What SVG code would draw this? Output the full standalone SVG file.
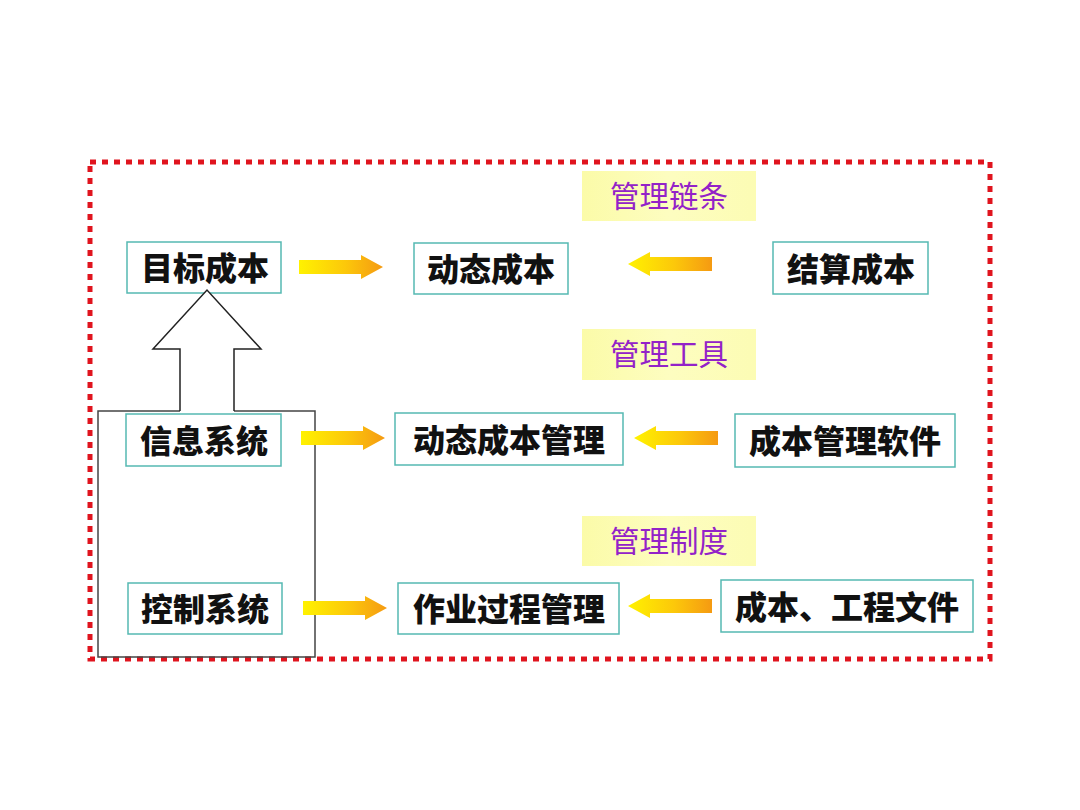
<svg xmlns="http://www.w3.org/2000/svg" width="1080" height="810" viewBox="0 0 1080 810">
<defs>
<linearGradient id="ag" x1="0" y1="0" x2="1" y2="0">
<stop offset="0" stop-color="#fff200"/>
<stop offset="0.55" stop-color="#fcc80a"/>
<stop offset="1" stop-color="#f59a12"/>
</linearGradient>
<linearGradient id="lg" x1="0" y1="0" x2="1" y2="0">
<stop offset="0" stop-color="#fbfba8"/>
<stop offset="0.5" stop-color="#fdfdc0"/>
<stop offset="1" stop-color="#fcfcb4"/>
</linearGradient>
<path id="ra" d="M0,-7 H62 V-12 L84,0 L62,12 V7 H0 Z"/>
<path id="la" d="M84,-7 H22 V-12 L0,0 L22,12 V7 H84 Z"/>
</defs>
<style>
.box{fill:#ffffff;stroke:#55b9b2;stroke-width:1.5}
.lab{fill:url(#lg);stroke:none}
.t{font-family:"Noto Sans CJK SC","Noto Sans CJK JP",sans-serif;font-size:32px;font-weight:900;fill:#111111;text-anchor:middle}
.p{font-family:"Noto Sans CJK SC","Noto Sans CJK JP",sans-serif;font-size:29.5px;fill:#9322c8;text-anchor:middle}
.arr{fill:url(#ag)}
</style>
<rect width="1080" height="810" fill="#ffffff"/>
<rect id="frame" x="90" y="162" width="900" height="497" fill="none" stroke="#e0141e" stroke-width="5" stroke-dasharray="6 6"/>

<g id="label-chain"><rect class="lab" x="582" y="171" width="174" height="50"/><text class="p" x="669" y="207">管理链条</text></g>
<g id="label-tools"><rect class="lab" x="582" y="329" width="174" height="51"/><text class="p" x="669" y="365">管理工具</text></g>
<g id="label-system"><rect class="lab" x="582" y="516" width="174" height="50"/><text class="p" x="669" y="552">管理制度</text></g>

<g id="n-target"><rect class="box" x="127" y="242" width="154" height="51"/><text class="t" x="205" y="280">目标成本</text></g>
<g id="n-dynamic"><rect class="box" x="414" y="243" width="154" height="51"/><text class="t" x="491" y="281">动态成本</text></g>
<g id="n-settle"><rect class="box" x="773" y="242" width="155" height="52"/><text class="t" x="851" y="281">结算成本</text></g>
<g id="n-info"><rect class="box" x="126" y="414" width="155" height="52"/><text class="t" x="204" y="453">信息系统</text></g>
<g id="n-dynmgmt"><rect class="box" x="395" y="413" width="228" height="52"/><text class="t" x="509" y="452">动态成本管理</text></g>
<g id="n-software"><rect class="box" x="735" y="414" width="220" height="53"/><text class="t" x="845" y="453">成本管理软件</text></g>
<g id="n-control"><rect class="box" x="128" y="583" width="154" height="51"/><text class="t" x="205" y="621">控制系统</text></g>
<g id="n-process"><rect class="box" x="398" y="583" width="221" height="51"/><text class="t" x="509" y="621">作业过程管理</text></g>
<g id="n-docs"><rect class="box" x="721" y="580" width="252" height="52"/><text class="t" x="847" y="619">成本、工程文件</text></g>

<g id="connectors">
<path d="M180,411 H98 V657 H315 V411 H234" fill="none" stroke="#444444" stroke-width="1.5"/>
<path d="M180,411 V349 H153 L207,290 L261,349 H234 V411" fill="#ffffff" stroke="#222222" stroke-width="1.5" stroke-linejoin="miter"/>
<use href="#ra" class="arr" x="299" y="267"/>
<use href="#ra" class="arr" x="301" y="438"/>
<use href="#ra" class="arr" x="303" y="608"/>
<use href="#la" class="arr" x="628" y="264"/>
<use href="#la" class="arr" x="634" y="438"/>
<use href="#la" class="arr" x="628" y="606"/>
</g>
</svg>
